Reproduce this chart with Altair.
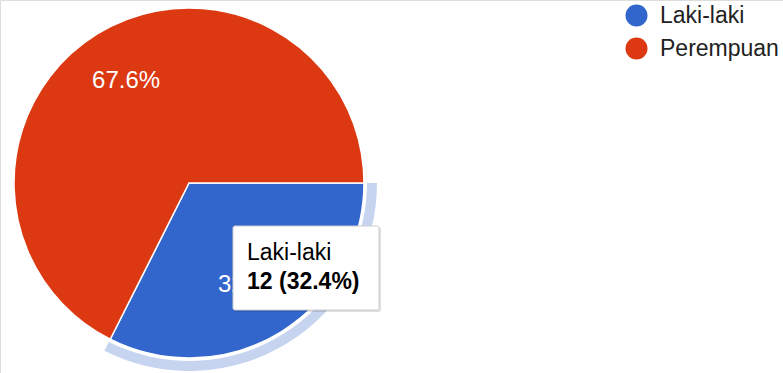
import altair as alt
import pandas as pd
import math

categories = ["Laki-laki", "Perempuan"]
counts = [12, 25]
labels = ["32.4%", "67.6%"]
order = [0, 1]
colors = ["#3366cc", "#dc3912"]

tip_title = categories[0]
tip_value = f"{counts[0]} ({labels[0]})"

df = pd.DataFrame({"gender": categories, "count": counts, "label": labels, "ord": order})
tip = pd.DataFrame({"title": [tip_title], "value": [tip_value]})

FONT = "Liberation Sans"
CX, CY = 189, 183
start = math.pi / 2
theta_scale = alt.Scale(range=[start, start + 2 * math.pi])

base = alt.Chart(df).encode(
    theta=alt.Theta("count:Q", stack=True, scale=theta_scale),
    order=alt.Order("ord:Q"),
    x=alt.value(CX),
    y=alt.value(CY),
)

halo = base.mark_arc(radius=188, radius2=178).encode(
    color=alt.condition("datum.gender == 'Laki-laki'", alt.value("#c6d4ef"), alt.value("transparent"))
)

pie = base.mark_arc(radius=175, stroke="white", strokeWidth=1.5).encode(
    color=alt.Color(
        "gender:N",
        scale=alt.Scale(domain=categories, range=colors),
        legend=alt.Legend(
            title=None,
            orient="none",
            legendX=625,
            legendY=4,
            symbolType="circle",
            symbolSize=484,
            symbolStrokeWidth=0,
            labelFontSize=23,
            labelFont=FONT,
            labelColor="#222222",
            labelOffset=12,
            rowPadding=9,
            padding=0,
        ),
    )
)

text = base.mark_text(radius=120, fontSize=24, font=FONT, color="white").encode(text="label:N")

tip_base = alt.Chart(tip)
shadow = tip_base.mark_rect(fill="#000000", opacity=0.12, cornerRadius=2).encode(
    x=alt.value(234), x2=alt.value(381), y=alt.value(227), y2=alt.value(312)
)
box = tip_base.mark_rect(fill="white", stroke="#cccccc", strokeWidth=1, cornerRadius=2).encode(
    x=alt.value(233), x2=alt.value(379), y=alt.value(226), y2=alt.value(310)
)
t1 = tip_base.mark_text(align="left", baseline="alphabetic", fontSize=23, font=FONT, color="#000000").encode(
    x=alt.value(247), y=alt.value(260), text="title:N"
)
t2 = tip_base.mark_text(align="left", baseline="alphabetic", fontSize=23, font=FONT, fontWeight="bold", color="#000000").encode(
    x=alt.value(247), y=alt.value(289), text="value:N"
)

chart = alt.layer(halo, pie, text, shadow, box, t1, t2).properties(
    width=783, height=373, padding=0, autosize=alt.AutoSizeParams(type="none")
).configure_view(stroke=None).configure(background="white")

chart.save("out.html", embed_options={"renderer": "svg", "actions": False})
